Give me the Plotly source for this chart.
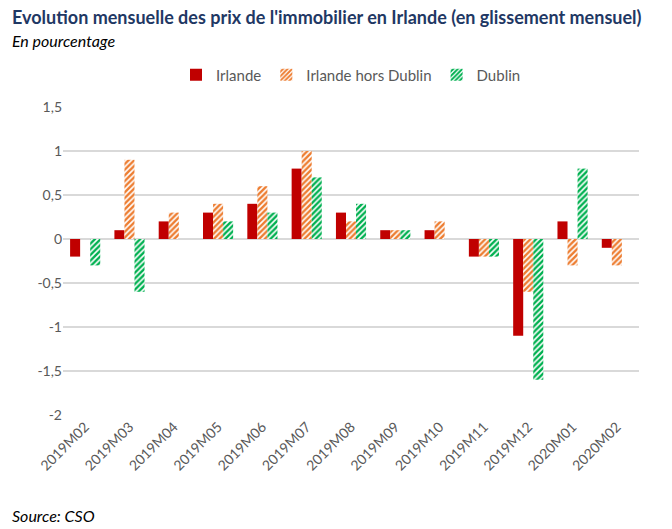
import plotly.graph_objects as go

categories = ["2019M02", "2019M03", "2019M04", "2019M05", "2019M06", "2019M07", "2019M08",
              "2019M09", "2019M10", "2019M11", "2019M12", "2020M01", "2020M02"]
irlande = [-0.2, 0.1, 0.2, 0.3, 0.4, 0.8, 0.3, 0.1, 0.1, -0.2, -1.1, 0.2, -0.1]
hors_dublin = [0.0, 0.9, 0.3, 0.4, 0.6, 1.0, 0.2, 0.1, 0.2, -0.2, -0.6, -0.3, -0.3]
dublin = [-0.3, -0.6, 0.0, 0.2, 0.3, 0.7, 0.4, 0.1, 0.0, -0.2, -1.6, 0.8, 0.0]
tick_vals = [1.5, 1, 0.5, 0, -0.5, -1, -1.5, -2]
tick_text = ["1,5", "1", "0,5", "0", "-0,5", "-1", "-1,5", "-2"]

FONT = "Lato, 'Open Sans', sans-serif"
RED = "#C00000"
ORANGE = "#ED7D31"
GREEN = "#00B050"

PW, PH = 576, 308
L, T = 63, 107

fig = go.Figure()
fig.add_trace(go.Bar(x=categories, y=irlande, name="Irlande", marker=dict(color=RED, line=dict(width=0))))
fig.add_trace(go.Bar(x=categories, y=hors_dublin, name="Irlande hors Dublin",
                     marker=dict(color="white", line=dict(width=0),
                                 pattern=dict(shape="/", fgcolor=ORANGE, bgcolor="white", fgopacity=1,
                                              size=4, solidity=0.6))))
fig.add_trace(go.Bar(x=categories, y=dublin, name="Dublin",
                     marker=dict(color="white", line=dict(width=0),
                                 pattern=dict(shape="/", fgcolor=GREEN, bgcolor="white", fgopacity=1,
                                              size=4, solidity=0.6))))

fig.update_layout(
    width=672, height=529,
    paper_bgcolor="white", plot_bgcolor="white",
    margin=dict(l=L, r=672 - L - PW, t=T, b=529 - T - PH, autoexpand=False),
    barmode="group", bargap=0.32, bargroupgap=0,
    font=dict(family=FONT, color="#595959", size=13),
    showlegend=True,
    legend=dict(orientation="h", x=0.5, xanchor="center", y=1 + (T - 75) / PH, yanchor="middle",
                font=dict(size=15, color="#595959"), itemwidth=30, traceorder="normal"),
    xaxis=dict(tickangle=-45, showgrid=False, showline=False, ticks="",
               tickfont=dict(size=14, color="#595959")),
    yaxis=dict(range=[-2, 1.5], tickvals=tick_vals, ticktext=tick_text,
               showgrid=True, gridcolor="#D9D9D9", gridwidth=1.5,
               zeroline=True, zerolinecolor="#D9D9D9", zerolinewidth=1.5,
               showline=False, ticks="", ticklen=8, tickcolor="white",
               tickfont=dict(size=14, color="#595959")),
    annotations=[
        dict(text="<b>Evolution mensuelle des prix de l'immobilier en Irlande (en glissement mensuel)</b>",
             xref="paper", yref="paper", x=(10 - L) / PW, y=1 + (T - 17) / PH, xanchor="left", yanchor="middle",
             showarrow=False, font=dict(family=FONT, size=18, color="#1F3864")),
        dict(text="<i>En pourcentage</i>", xref="paper", yref="paper",
             x=(10 - L) / PW, y=1 + (T - 40) / PH, xanchor="left", yanchor="middle",
             showarrow=False, font=dict(family=FONT, size=16, color="black")),
        dict(text="<i>Source: CSO</i>", xref="paper", yref="paper",
             x=(10 - L) / PW, y=-(515 - T - PH) / PH, xanchor="left", yanchor="middle",
             showarrow=False, font=dict(family=FONT, size=16, color="black")),
    ],
)

fig.write_html("out.html", config={"displayModeBar": False},
               post_script="document.body.style.margin='0';")
